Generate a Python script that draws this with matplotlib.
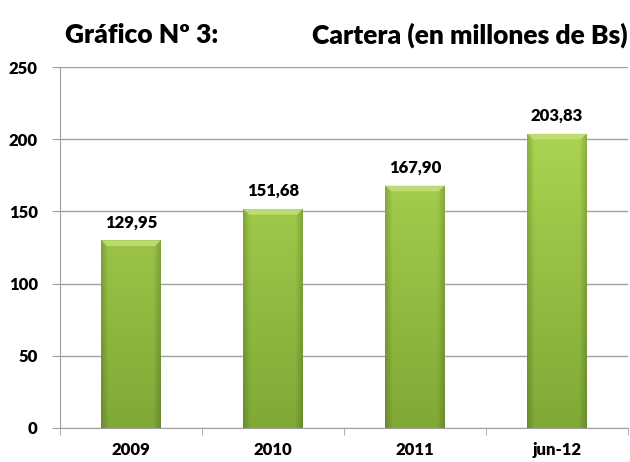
import matplotlib
matplotlib.use("Agg")
import matplotlib.pyplot as plt
import numpy as np
from matplotlib.colors import to_rgb

categories = ["2009", "2010", "2011", "jun-12"]
values = [129.95, 151.68, 167.90, 203.83]
value_labels = ["129,95", "151,68", "167,90", "203,83"]
yticks = [0, 50, 100, 150, 200, 250]

plt.rcParams['font.family'] = ['Lato', 'DejaVu Sans']
W = 'heavy'

fig = plt.figure(figsize=(6.3, 4.62), dpi=100)
ax = fig.add_axes([60/630, 1-428/462, 568/630, (428-67)/462])

x = np.arange(len(categories))
bars = ax.bar(x, values, width=0.42, color='#95c040', edgecolor='none', zorder=2)

top = np.array(to_rgb('#aad450'))
bot = np.array(to_rgb('#80a836'))
nx, ny = 120, 200
hx = np.linspace(-1, 1, nx)
edge = 1 - 0.18 * np.clip((np.abs(hx) - 0.75) / 0.25, 0, 1)
for b in bars:
    x0, y0 = b.get_x(), b.get_y()
    w, h = b.get_width(), b.get_height()
    ys = np.linspace(1, 0, ny)
    ydat = y0 + ys * h
    t = np.clip(ydat / max(values), 0, 1)[:, None]
    col = bot[None, :] * (1 - t) + top[None, :] * t
    img = col[:, None, :] * edge[None, :, None]
    im = ax.imshow(np.clip(img, 0, 1), extent=[x0, x0 + w, y0, y0 + h],
                   aspect='auto', zorder=3, interpolation='bilinear')
    im.set_clip_path(b)
    ax.fill([x0, x0 + w, x0 + w*0.9, x0 + w*0.1],
            [y0 + h, y0 + h, y0 + h - 4, y0 + h - 4],
            color='#c4e27c', alpha=0.8, zorder=4, lw=0)

for xi, v, lab in zip(x, values, value_labels):
    ax.text(xi, v + 7, lab, ha='center', va='bottom', fontsize=12, fontweight=W, color='black')

ax.set_xlim(-0.5, len(categories) - 0.5)
ax.set_ylim(0, 250)
ax.set_yticks(yticks)
ax.set_yticklabels([str(t) for t in yticks], fontsize=12, fontweight=W)
ax.set_xticks(x)
ax.set_xticklabels(categories, fontsize=12, fontweight=W)
ax.tick_params(axis='x', which='major', length=0, pad=10)
ax.set_xticks(np.arange(-0.5, len(categories)), minor=True)
ax.tick_params(axis='x', which='minor', length=5, color='#a0a0a0', direction='out')
ax.tick_params(axis='y', length=6, color='#a0a0a0', pad=10)
ax.yaxis.grid(True, color='#a0a0a0', lw=1, zorder=0)
ax.set_axisbelow(True)
for s in ['top', 'right']:
    ax.spines[s].set_visible(False)
for s in ['left', 'bottom']:
    ax.spines[s].set_color('#a0a0a0')

fig.text(65/630, 1-35/462, "Gráfico Nº 3:", fontsize=19, fontweight=W, va='center', ha='left')
fig.text(628/630, 1-35/462, "Cartera (en millones de Bs)", fontsize=19, fontweight=W, va='center', ha='right')

fig.savefig("out.png", dpi=100)
